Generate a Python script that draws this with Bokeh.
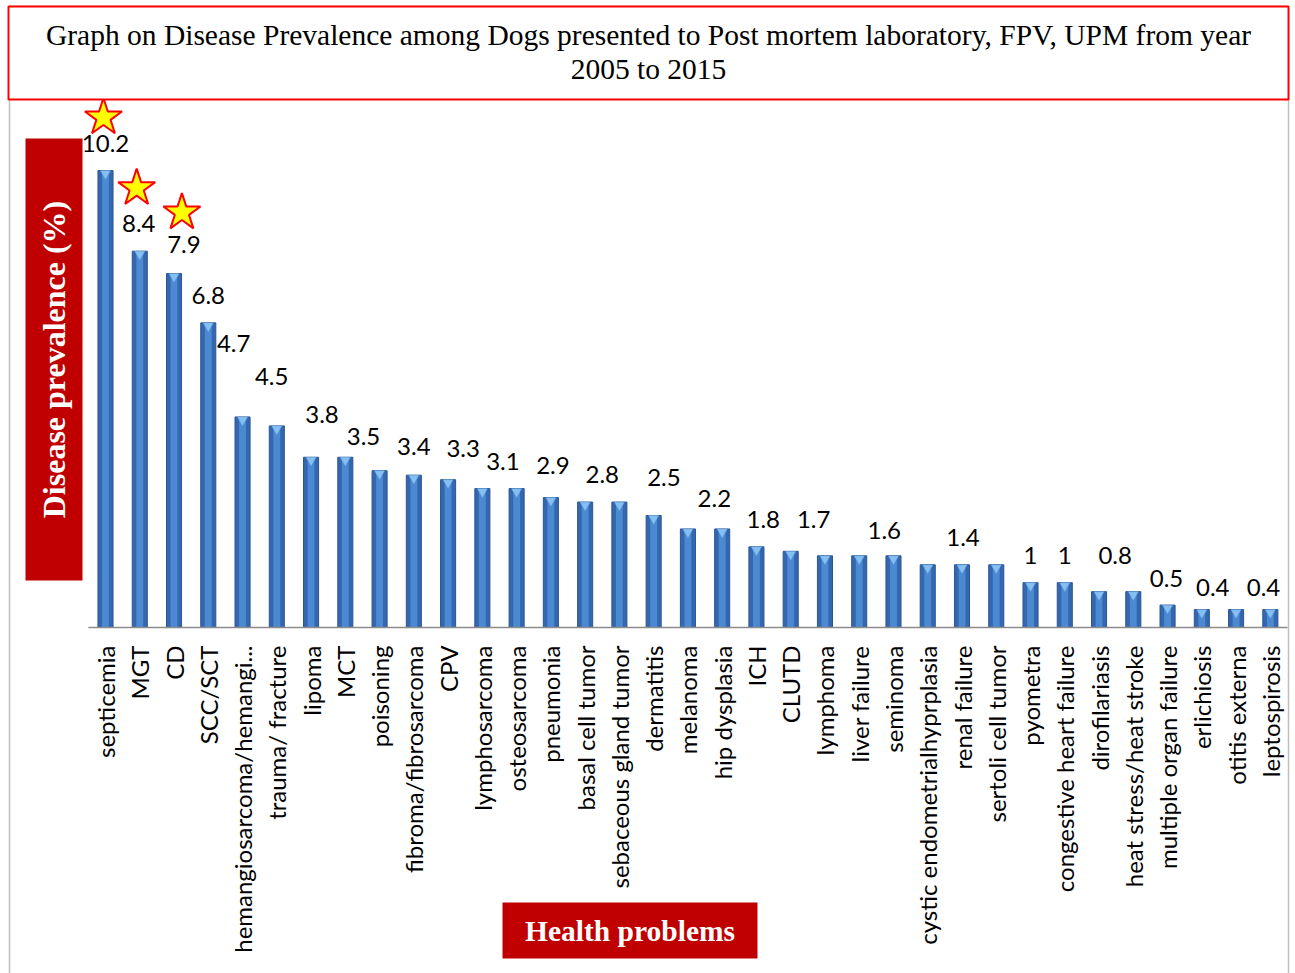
import math
from bokeh.plotting import figure
from bokeh.models import Range1d, ColumnDataSource
from bokeh.core.properties import value
from bokeh.embed import file_html
from bokeh.resources import INLINE

# ---------------- data ----------------
categories = ["septicemia", "MGT", "CD", "SCC/SCT", "hemangiosarcoma/hemangi...",
              "trauma/ fracture", "lipoma", "MCT", "poisoning", "fibroma/fibrosarcoma",
              "CPV", "lymphosarcoma", "osteosarcoma", "pneumonia", "basal cell tumor",
              "sebaceous gland tumor", "dermatitis", "melanoma", "hip dysplasia", "ICH",
              "CLUTD", "lymphoma", "liver failure", "seminoma", "cystic endometrialhyprplasia",
              "renal failure", "sertoli cell tumor", "pyometra", "congestive heart failure",
              "dirofilariasis", "heat stress/heat stroke", "multiple organ failure",
              "erlichiosis", "otitis externa", "leptospirosis"]
prevalence = [10.2, 8.4, 7.9, 6.8, 4.7, 4.5, 3.8, 3.8, 3.5, 3.4, 3.3, 3.1, 3.1, 2.9, 2.8,
              2.8, 2.5, 2.2, 2.2, 1.8, 1.7, 1.6, 1.6, 1.6, 1.4, 1.4, 1.4, 1.0, 1.0, 0.8,
              0.8, 0.5, 0.4, 0.4, 0.4]
labelled_bars = [0, 1, 2, 3, 4, 5, 6, 8, 9, 10, 11, 13, 14, 16, 18, 19, 20, 22, 25,
                 27, 28, 29, 31, 32, 34]
starred_bars = [0, 1, 2]
title_lines = ["Graph on Disease Prevalence among Dogs presented to Post mortem laboratory, FPV, UPM from year",
               "2005 to 2015"]
y_title = "Disease prevalence (%)"
x_title = "Health problems"

# ---------------- layout (placement only) ----------------
PX_X = 34.26   # px per category
PX_Y = 44.8    # px per unit
W, H = 1292, 973
BAR0_PX, BASE_PX = 105, 627
label_place = [(0, 27), (-0.03, 28), (0.29, 29), (0, 27), (-0.26, 73), (-0.15, 49),
               (0.32, 43), (-0.47, 34), (0, 29), (0.44, 31), (0.6, 27), (0.06, 32),
               (0.5, 28), (0.3, 38), (-0.23, 30), (0.2, 27), (0.67, 32), (0.73, 25),
               (0.03, 27), (0, 27), (0, 27), (0.47, 36), (-0.03, 27), (0.32, 22), (-0.2, 22)]
star_place = [(-0.06, 53), (-0.09, 63), (0.23, 61)]

x0 = -BAR0_PX / PX_X
x1 = x0 + W / PX_X
y1 = BASE_PX / PX_Y
y0 = y1 - H / PX_Y

def px_x(page_x):
    return (page_x - BAR0_PX) / PX_X

def px_y(page_y):
    return (BASE_PX - page_y) / PX_Y

p = figure(width=W, height=H, x_range=Range1d(x0, x1), y_range=Range1d(y0, y1),
           output_backend="svg", toolbar_location=None, min_border=0,
           background_fill_color="white", border_fill_color="white")
p.axis.visible = False
p.grid.visible = False
p.outline_line_color = None

idx = list(range(len(categories)))
src = ColumnDataSource(dict(x=idx, v=prevalence, cat=categories,
                            cap=[v - 3.0 / PX_Y for v in prevalence]))

# outer gray frame
p.quad(left=[px_x(9)], right=[px_x(1288)], top=[px_y(6)], bottom=[px_y(990)],
       fill_color=None, line_color="#bfbfbf", line_width=1.5)

# bars (cylinder look)
p.vbar(x="x", top="v", bottom=0, width=0.44, source=src,
       fill_color="#3567ae", line_color="#2a5694", line_width=1)
p.vbar(x="x", top="v", bottom=0, width=0.2, source=src,
       fill_color="#4c89d3", line_color=None)
p.scatter(x="x", y="cap", marker="inverted_triangle", size=10, source=src,
          fill_color="#86c0f2", line_color="#6aa6e0", line_width=0.5)

# axis line
p.segment(x0=[-0.5], y0=[0], x1=[len(categories) - 0.5], y1=[0],
          line_color="#8c8c8c", line_width=1.5)

# category labels
p.text(x="x", y=-18 / PX_Y, text="cat", source=src, angle=math.pi / 2,
       text_align="right", text_baseline="middle",
       text_font=value("Lato"), text_font_size="24px", text_color="black")

# value labels
lx = [labelled_bars[i] + label_place[i][0] for i in range(len(labelled_bars))]
ly = [prevalence[labelled_bars[i]] + label_place[i][1] / PX_Y for i in range(len(labelled_bars))]
lt = [f"{prevalence[b]:g}" for b in labelled_bars]
p.text(x=lx, y=ly, text=lt, text_align="center", text_baseline="middle",
       text_font=value("Lato"), text_font_size="24px", text_color="black")

# stars
sx = [starred_bars[i] + star_place[i][0] for i in range(len(starred_bars))]
sy = [prevalence[starred_bars[i]] + star_place[i][1] / PX_Y for i in range(len(starred_bars))]
p.scatter(x=sx, y=sy, marker="star", size=39, fill_color="#ffff00",
          line_color="#ff0000", line_width=2)

# title box
p.quad(left=[px_x(8)], right=[px_x(1288)], top=[px_y(6)], bottom=[px_y(99)],
       fill_color="white", line_color="#ff0000", line_width=2)
p.text(x=[px_x(648), px_x(648)], y=[px_y(34), px_y(68)], text=title_lines,
       text_align="center", text_baseline="middle",
       text_font=value("Liberation Serif"), text_font_size="29.5px", text_color="black")

# y title box
p.quad(left=[px_x(25)], right=[px_x(82)], top=[px_y(138)], bottom=[px_y(580)],
       fill_color="#c00000", line_color=None)
p.text(x=[px_x(53.5)], y=[px_y(359)], text=[y_title], angle=math.pi / 2,
       text_align="center", text_baseline="middle",
       text_font=value("Liberation Serif"), text_font_size="32px",
       text_font_style="bold", text_color="white")

# x title box
p.quad(left=[px_x(502)], right=[px_x(757)], top=[px_y(902)], bottom=[px_y(958)],
       fill_color="#c00000", line_color=None)
p.text(x=[px_x(629.5)], y=[px_y(930)], text=[x_title],
       text_align="center", text_baseline="middle",
       text_font=value("Liberation Serif"), text_font_size="29.5px",
       text_font_style="bold", text_color="white")

open("out.html", "w").write(file_html(p, INLINE))
